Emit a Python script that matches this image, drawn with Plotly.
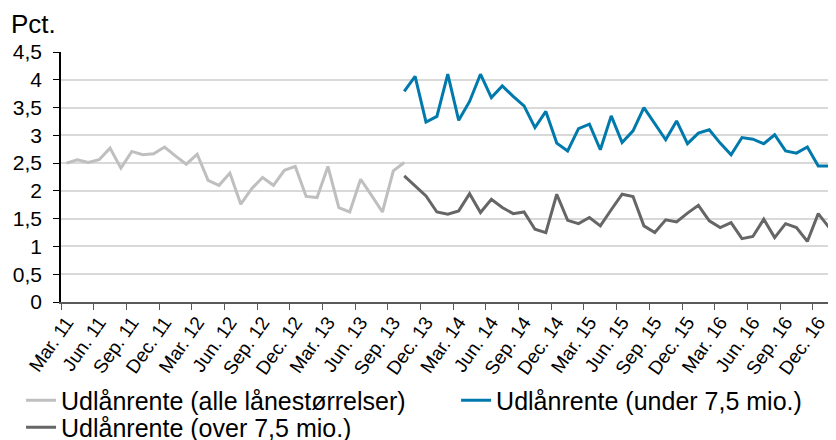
import plotly.graph_objs as go

# Months from Mar. 11 to Feb. 17 (Danish abbreviations)
month_names = ["Jan.", "Feb.", "Mar.", "Apr.", "Maj", "Jun.",
               "Jul.", "Aug.", "Sep.", "Okt.", "Nov.", "Dec."]
months = []
for year in range(11, 18):
    for m in range(12):
        if (year == 11 and m < 2) or (year == 17 and m > 1):
            continue
        months.append(f"{month_names[m]} {year}")

# Udlånrente (alle lånestørrelser), Mar. 11 - Okt. 13
alle = [2.50, 2.56, 2.51, 2.56, 2.77, 2.41, 2.71, 2.65, 2.67, 2.79,
        2.63, 2.48, 2.66, 2.19, 2.10, 2.32, 1.76, 2.04, 2.24, 2.10,
        2.37, 2.44, 1.90, 1.88, 2.44, 1.70, 1.62, 2.21, 1.92, 1.62,
        2.36, 2.51]

# Udlånrente (under 7,5 mio.), Okt. 13 - Feb. 17
under = [3.79, 4.06, 3.24, 3.34, 4.10, 3.27, 3.61, 4.10, 3.68, 3.89,
         3.70, 3.53, 3.14, 3.43, 2.86, 2.72, 3.12, 3.20, 2.74, 3.35,
         2.87, 3.08, 3.50, 3.20, 2.92, 3.26, 2.85, 3.04, 3.10, 2.86,
         2.65, 2.96, 2.93, 2.85, 3.01, 2.72, 2.68, 2.79, 2.45, 2.45,
         2.61]

# Udlånrente (over 7,5 mio.), Okt. 13 - Feb. 17
over = [2.27, 2.09, 1.91, 1.62, 1.58, 1.64, 1.95, 1.61, 1.85, 1.70,
        1.59, 1.62, 1.31, 1.25, 1.94, 1.47, 1.41, 1.52, 1.37, 1.66,
        1.94, 1.90, 1.37, 1.25, 1.48, 1.44, 1.60, 1.74, 1.46, 1.34,
        1.43, 1.14, 1.18, 1.49, 1.16, 1.41, 1.34, 1.09, 1.59, 1.34,
        1.21]

y_ticks = [0, 0.5, 1, 1.5, 2, 2.5, 3, 3.5, 4, 4.5]

font = "Liberation Sans, Arial, sans-serif"

fig = go.Figure()
fig.add_trace(
    go.Scatter(
        x=months[:len(alle)],
        y=alle,
        mode="lines",
        line=dict(color="#bfbfbf", width=3),
        name="Udlånrente (alle lånestørrelser)",
        legend="legend",
        showlegend=True,
    )
)
fig.add_trace(
    go.Scatter(
        x=months[31:31 + len(under)],
        y=under,
        mode="lines",
        line=dict(color="#0079ac", width=3),
        name="Udlånrente (under 7,5 mio.)",
        legend="legend2",
        showlegend=True,
    )
)
fig.add_trace(
    go.Scatter(
        x=months[31:31 + len(over)],
        y=over,
        mode="lines",
        line=dict(color="#666666", width=3),
        name="Udlånrente (over 7,5 mio.)",
        legend="legend3",
        showlegend=True,
    )
)

fig.add_annotation(
    text="Pct.",
    xref="paper",
    yref="paper",
    x=-0.067,
    y=1.11,
    xanchor="left",
    yanchor="middle",
    showarrow=False,
    font=dict(size=26, color="black", family=font),
)

# the page adds an 8px body margin, so the figure is shifted by 8px
legend_style = dict(
    xref="container",
    yref="container",
    xanchor="left",
    yanchor="top",
    bgcolor="rgba(0,0,0,0)",
    font=dict(size=25),
)

fig.update_layout(
    width=836,
    height=440,
    showlegend=True,
    margin=dict(l=53, r=8, t=44, b=146, autoexpand=False),
    paper_bgcolor="white",
    plot_bgcolor="white",
    separators=",.",
    font=dict(family=font, color="black"),
    xaxis=dict(
        type="category",
        categoryorder="array",
        categoryarray=months,
        range=[-0.5, 70.63],
        automargin=False,
        tickmode="linear",
        tick0=0,
        dtick=3,
        tickson="boundaries",
        ticks="outside",
        ticklen=6,
        tickcolor="#595959",
        tickangle=-55,
        tickfont=dict(size=19),
        showgrid=False,
        showline=True,
        linecolor="#595959",
        linewidth=1.5,
        zeroline=False,
    ),
    yaxis=dict(
        range=[0, 4.5],
        automargin=False,
        tickmode="array",
        tickvals=y_ticks,
        ticks="outside",
        ticklen=6,
        tickcolor="black",
        ticklabelstandoff=7,
        tickfont=dict(size=21),
        showgrid=True,
        gridcolor="#d9d9d9",
        gridwidth=1.5,
        showline=True,
        linecolor="black",
        linewidth=1.5,
        zeroline=False,
    ),
    legend=dict(legend_style, x=0.0156, y=0.16),
    legend2=dict(legend_style, x=0.536, y=0.16),
    legend3=dict(legend_style, x=0.0156, y=0.0986),
)

fig.write_html("out.html")
